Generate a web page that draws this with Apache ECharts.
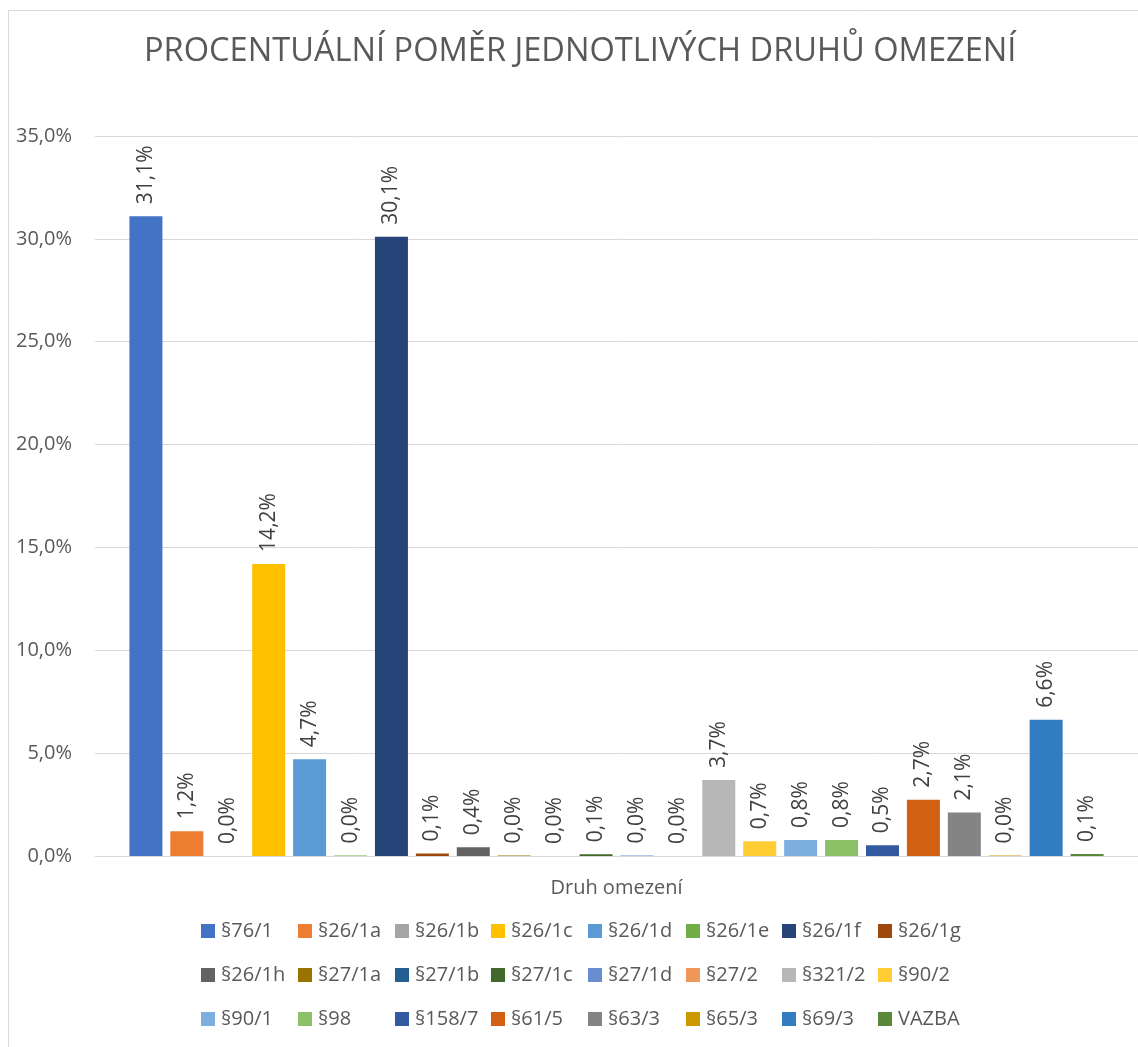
<!DOCTYPE html>
<html>
<head>
    <meta charset="utf-8">
    <title>Procentuální poměr</title>
    <script src="https://cdn.jsdelivr.net/npm/echarts@6/dist/echarts.min.js"></script>
    <style>
        html, body { margin: 0; padding: 0; background: #fff; }
    </style>
</head>
<body>
    <div id="main" style="width: 1138px;height:1047px;"></div>
    <script type="text/javascript">
        // jedna kategorie, kazdy druh omezeni je samostatna rada
        var category = ['Druh omezení'];
        var names = ['§76/1', '§26/1a', '§26/1b', '§26/1c', '§26/1d', '§26/1e', '§26/1f', '§26/1g',
            '§26/1h', '§27/1a', '§27/1b', '§27/1c', '§27/1d', '§27/2', '§321/2', '§90/2',
            '§90/1', '§98', '§158/7', '§61/5', '§63/3', '§65/3', '§69/3', 'VAZBA'];
        // hodnoty v procentech (odhad z obrazku, 0,0% = velmi male)
        var values = [31.1, 1.2, 0.0, 14.2, 4.7, 0.02, 30.1, 0.12,
            0.42, 0.03, 0.0, 0.08, 0.03, 0.0, 3.7, 0.72,
            0.78, 0.78, 0.52, 2.74, 2.12, 0.03, 6.62, 0.1];
        var colors = ['#4472C4', '#ED7D31', '#A5A5A5', '#FFC000', '#5B9BD5', '#70AD47', '#264478', '#9E480E',
            '#636363', '#997300', '#255E91', '#43682B', '#698ED0', '#F1975A', '#B7B7B7', '#FFCD33',
            '#7CAFDD', '#8CC168', '#335AA1', '#D26012', '#848484', '#CC9A00', '#327DC2', '#5A8A39'];
        var yTicks = [0, 5, 10, 15, 20, 25, 30, 35];

        var FONT = 'Open Sans';
        function pct(v) {
            return v.toFixed(1).replace('.', ',') + '%';
        }

        var myChart = echarts.init(document.getElementById('main'));

        var series = [];
        for (var i = 0; i < names.length; i++) {
            series.push({
                name: names[i],
                type: 'bar',
                data: [values[i]],
                barWidth: 33,
                barGap: '24%',
                itemStyle: { color: colors[i] },
                label: {
                    show: true,
                    position: 'top',
                    rotate: 90,
                    align: 'left',
                    verticalAlign: 'middle',
                    distance: 12,
                    fontFamily: FONT,
                    fontSize: 21,
                    color: '#404040',
                    formatter: function (p) { return pct(p.value); }
                }
            });
        }

        // legenda po sloupcich, aby byla mrizka zarovnana jako v Excelu
        var colX = [201, 298, 395, 491, 588, 686, 782, 878];
        var legends = [];
        for (var c = 0; c < 8; c++) {
            legends.push({
                orient: 'vertical',
                left: colX[c],
                top: 921,
                padding: 0,
                icon: 'rect',
                itemWidth: 14,
                itemHeight: 14,
                itemGap: 24,
                selectedMode: false,
                textStyle: { fontFamily: FONT, fontSize: 20, color: '#595959', lineHeight: 20, padding: [0, 0, 0, 1] },
                data: [names[c], names[c + 8], names[c + 16]]
            });
        }

        var option = {
            animation: false,
            backgroundColor: '#fff',
            title: {
                text: 'PROCENTUÁLNÍ POMĚR JEDNOTLIVÝCH DRUHŮ OMEZENÍ',
                left: 144,
                top: 35,
                padding: 0,
                textStyle: { fontFamily: FONT, fontSize: 32.6, fontWeight: 'normal', color: '#595959' }
            },
            graphic: [{
                type: 'rect',
                shape: { x: 8.5, y: 10.5, width: 1200, height: 1100 },
                style: { fill: 'none', stroke: '#d9d9d9', lineWidth: 1 },
                silent: true
            }],
            legend: legends,
            grid: { left: 95, right: 0, top: 136, bottom: 191 },
            xAxis: {
                type: 'category',
                data: category,
                axisTick: { show: false },
                axisLine: { lineStyle: { color: '#d9d9d9', width: 1 } },
                axisLabel: { fontFamily: FONT, fontSize: 20, color: '#595959', margin: 22 }
            },
            yAxis: {
                type: 'value',
                min: yTicks[0],
                max: yTicks[yTicks.length - 1],
                interval: 5,
                axisLine: { show: false },
                axisTick: { show: false },
                splitLine: { lineStyle: { color: '#d9d9d9', width: 1 } },
                axisLabel: {
                    fontFamily: FONT, fontSize: 20, color: '#595959', margin: 23,
                    formatter: function (v) { return pct(v); }
                }
            },
            series: series
        };

        myChart.setOption(option);
    </script>
</body>
</html>
